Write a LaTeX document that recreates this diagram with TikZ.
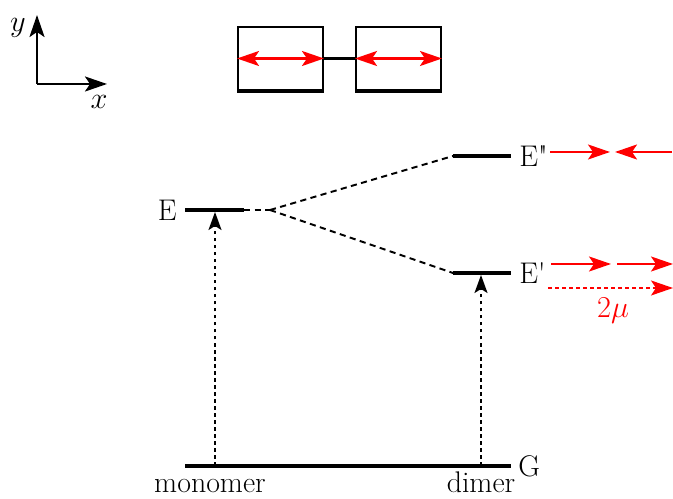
\documentclass[tikz,border=0pt]{standalone}
\usetikzlibrary{arrows.meta, positioning}

\begin{document}
\begin{tikzpicture}[
    >={Stealth[length=0.44cm, width=0.3cm, inset=0.1cm]},
    every node/.style={font=\fontsize{17}{19}\selectfont},
    level/.style={line width=1.8pt},
    link/.style={line width=1.1pt, dash pattern=on 3.5pt off 2.5pt},
    excite/.style={line width=1pt, dash pattern=on 2pt off 2pt, -{Stealth[length=0.36cm, width=0.26cm, inset=0.08cm]}},
    dipole/.style={red, line width=1.3pt},
    mono/.style={rectangle, draw=black, line width=1.1pt, minimum width=1.7cm, minimum height=1.26cm, inner sep=0pt}]

\useasboundingbox (0,0) rectangle (13.46,9.96);

% Axes
\coordinate (origin) at (0.74,8.28);
\coordinate (ytip) at (0.74,9.66);
\coordinate (xtip) at (2.14,8.28);
\draw[line width=1.4pt, ->] (origin) -- (ytip);
\draw[line width=1.4pt, ->] (origin) -- (xtip);
\node (ylab) at (0.36,9.40) {$y$};
\node (xlab) at (1.98,7.92) {$x$};

% Dimer of two monomers
\node[mono] (left) at (5.61,8.79) {};
\node[mono] (right) at (7.97,8.79) {};
\draw[line width=2pt] (left.south west) -- (left.south east);
\draw[line width=2pt] (right.south west) -- (right.south east);
\draw[line width=1.4pt] (left.east) -- (right.west);
\draw[dipole, <->] (left.west) -- (left.east);
\draw[dipole, <->] (right.west) -- (right.east);

% Levels
\coordinate (Ea) at (3.70,5.76);
\coordinate (Eb) at (4.88,5.76);
\coordinate (split) at (5.40,5.76);
\coordinate (Eupa) at (9.06,6.84);
\coordinate (Eupb) at (10.22,6.84);
\coordinate (Elowa) at (9.06,4.50);
\coordinate (Elowb) at (10.22,4.50);
\coordinate (Ga) at (3.70,0.64);
\coordinate (Gb) at (10.22,0.64);

\draw[level] (Ea) -- (Eb);
\draw[level] (Eupa) -- (Eupb);
\draw[level] (Elowa) -- (Elowb);
\draw[level] (Ga) -- (Gb);

\node[left=0.16cm of Ea, inner sep=0pt] (Elab) {E};
\node[right=0.16cm of Eupb, inner sep=0pt] (Euplab) {E\textquotedbl};
\node[right=0.16cm of Elowb, inner sep=0pt] (Elowlab) {E\textquotesingle};
\node[right=0.14cm of Gb, inner sep=0pt] (Glab) {G};

% Splitting
\draw[link] (Eb) -- (split);
\draw[link] (split) -- (Eupa);
\draw[link] (split) -- (Elowa);

% Transitions
\coordinate (monoG) at (4.30,0.64);
\coordinate (monoE) at (4.30,5.72);
\coordinate (dimG) at (9.62,0.64);
\coordinate (dimE) at (9.62,4.46);
\draw[excite] (monoG) -- (monoE);
\draw[excite] (dimG) -- (dimE);
\node[anchor=base, inner sep=0pt] (monolab) at (4.20,0.12) {monomer};
\node[anchor=base, inner sep=0pt] (dimlab) at (9.62,0.12) {dimer};

% Transition dipoles
\coordinate (Ua) at (11.00,6.92);
\coordinate (Ub) at (12.20,6.92);
\coordinate (Uc) at (13.44,6.92);
\coordinate (Ud) at (12.30,6.92);
\draw[dipole, ->] (Ua) -- (Ub);
\draw[dipole, ->] (Uc) -- (Ud);
\coordinate (La) at (11.02,4.68);
\coordinate (Lb) at (12.22,4.68);
\coordinate (Lc) at (12.34,4.68);
\coordinate (Ld) at (13.46,4.68);
\draw[dipole, ->] (La) -- (Lb);
\draw[dipole, ->] (Lc) -- (Ld);
\coordinate (Sa) at (10.96,4.20);
\coordinate (Sb) at (13.46,4.20);
\draw[dipole, line width=1pt, dash pattern=on 2pt off 2pt, ->] (Sa) -- (Sb);
\node[red] (sum) at (12.26,3.74) {$2\mu$};

\end{tikzpicture}
\end{document}
